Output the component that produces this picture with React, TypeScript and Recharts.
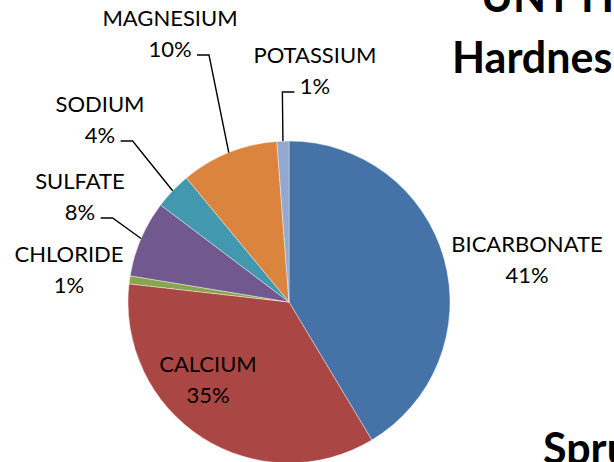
import React from 'react';
import { PieChart, Pie, Cell } from 'recharts';

const CATEGORIES = ['BICARBONATE', 'CALCIUM', 'CHLORIDE', 'SULFATE', 'SODIUM', 'MAGNESIUM', 'POTASSIUM'];
const SHARES = [41.4, 35.4, 0.8, 7.7, 3.7, 9.8, 1.2];
const COLORS = ['#4572A7', '#AA4643', '#89A54E', '#71588F', '#4198AF', '#DB843D', '#93A9CF'];

// label placement (center x, first-line center y) relative to pie center; leader side
const LABEL_LAYOUT = [
  { dx: 238, dy: -58, leader: null },
  { dx: -81, dy: 62, leader: null },
  { dx: -220, dy: -48, leader: null },
  { dx: -209, dy: -121, leader: 'right' },
  { dx: -189, dy: -198, leader: 'right' },
  { dx: -119, dy: -284, leader: 'right' },
  { dx: 26, dy: -247, leader: 'left' },
];

const data = CATEGORIES.map((name, i) => ({ name, value: SHARES[i] }));

const FONT = 'Lato, "Open Sans", sans-serif';
const FS = 22;
const LINE = 31;
const RADIAN = Math.PI / 180;

const renderLabel = (props: any) => {
  const { cx, cy, midAngle, outerRadius, percent, index, name } = props;
  const lay = LABEL_LAYOUT[index];
  const x = cx + lay.dx;
  const y1 = cy + lay.dy;
  const y2 = y1 + LINE;
  const pct = `${Math.round(percent * 100)}%`;
  const pctW = ((pct.length - 1) * 0.58 + 0.84) * FS;
  let leader = null;
  if (lay.leader) {
    const ex = cx + outerRadius * Math.cos(-midAngle * RADIAN);
    const ey = cy + outerRadius * Math.sin(-midAngle * RADIAN);
    const ly = y2 + 6;
    const sx = lay.leader === 'right' ? x + pctW / 2 + 5 : x - pctW / 2 - 5;
    const bx = lay.leader === 'right' ? sx + 12 : sx - 12;
    leader = (
      <polyline
        points={`${sx},${ly} ${bx},${ly} ${ex},${ey}`}
        fill="none"
        stroke="#000"
        strokeWidth={1.4}
      />
    );
  }
  return (
    <g key={`lbl-${index}`}>
      {leader}
      <text x={x} y={y1 + 8} textAnchor="middle" fontFamily={FONT} fontSize={FS} fill="#000">
        {name}
      </text>
      <text x={x} y={y2 + 8} textAnchor="middle" fontFamily={FONT} fontSize={FS} fill="#000">
        {pct}
      </text>
    </g>
  );
};

export default function App() {
  return (
    <div style={{ position: 'absolute', left: 0, top: 0, width: 614, height: 462, background: '#fff', overflow: 'hidden' }}>
      <PieChart width={614} height={462} margin={{ top: 0, right: 0, bottom: 0, left: 0 }}>
        <Pie
          data={data}
          dataKey="value"
          nameKey="name"
          cx={289}
          cy={302}
          outerRadius={161}
          startAngle={90}
          endAngle={-270}
          stroke="#ffffff"
          strokeWidth={0.4}
          label={renderLabel}
          labelLine={false}
          isAnimationActive={false}
        >
          {data.map((d, i) => (
            <Cell key={d.name} fill={COLORS[i]} />
          ))}
        </Pie>
      </PieChart>
      <svg width={614} height={462} style={{ position: 'absolute', left: 0, top: 0, pointerEvents: 'none' }}>
        <text x={481} y={12} fontFamily={FONT} fontWeight={700} fontSize={43} fill="#000">UNT Ho</text>
        <text x={452} y={73} fontFamily={FONT} fontWeight={700} fontSize={43} fill="#000">Hardnes</text>
        <text x={543} y={464} fontFamily={FONT} fontWeight={700} fontSize={43} fill="#000">Spru</text>
      </svg>
    </div>
  );
}
